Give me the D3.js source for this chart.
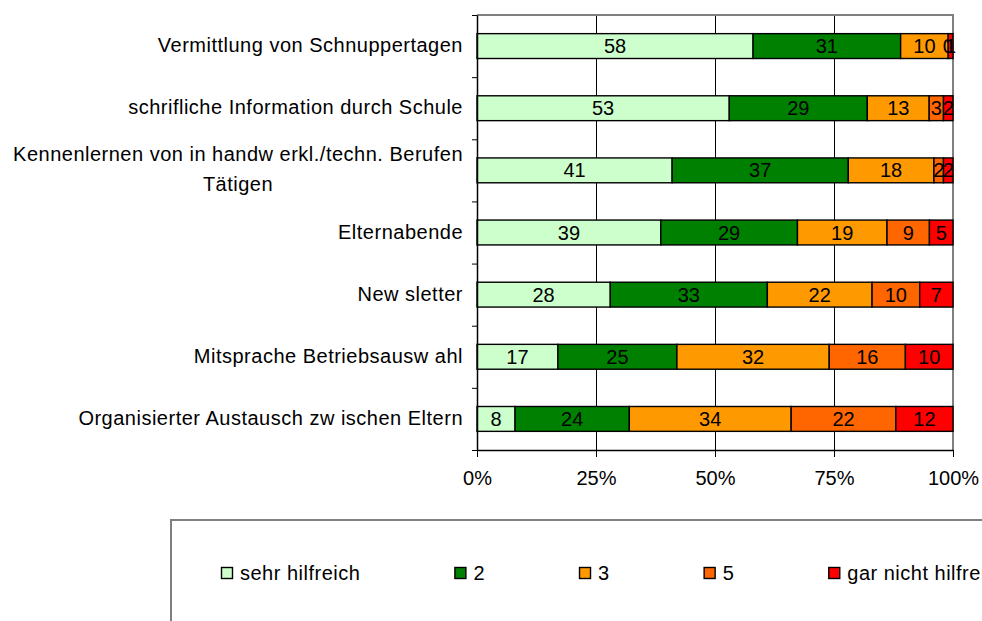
<!DOCTYPE html>
<html>
<head>
<meta charset="utf-8">
<script src="https://cdn.jsdelivr.net/npm/d3@7"></script>
<style>
body { margin: 0; background: #fff; }
svg { display: block; font-family: 'Liberation Sans', Arial, sans-serif; }
</style>
</head>
<body>
<svg width="982" height="621"></svg>
<script>
'use strict';

// categories, top to bottom
var categories = [
    'Vermittlung von Schnuppertagen',
    'schrifliche Information durch Schule',
    'Kennenlernen von in handw erkl./techn. Berufen\nTätigen',
    'Elternabende',
    'New sletter',
    'Mitsprache Betriebsausw ahl',
    'Organisierter Austausch zw ischen Eltern'
];

var seriesNames = ['sehr hilfreich', '2', '3', '5', 'gar nicht hilfreich'];
var seriesColors = ['#ccffcc', '#008000', '#ff9900', '#ff6600', '#ff0000'];

var sehrHilfreich = [58, 53, 41, 39, 28, 17, 8];
var wert2 = [31, 29, 37, 29, 33, 25, 24];
var wert3 = [10, 13, 18, 19, 22, 32, 34];
var wert5 = [0, 3, 2, 9, 10, 16, 22];
var garNicht = [1, 2, 2, 5, 7, 10, 12];

var xTicks = [0, 0.25, 0.5, 0.75, 1];

var series = [sehrHilfreich, wert2, wert3, wert5, garNicht];
var keys = ['s0', 's1', 's2', 's3', 's4'];

var rows = categories.map(function(c, i) {
    var row = {cat: c};
    keys.forEach(function(k, j) { row[k] = series[j][i]; });
    return row;
});

var stacked = d3.stack()
    .keys(keys)
    .offset(d3.stackOffsetExpand)(rows);

var svg = d3.select('svg'),
    plot = {left: 477, right: 953, top: 15, bottom: 450},
    fontSize = 20;

var x = d3.scaleLinear()
    .domain([0, 1])
    .range([plot.left, plot.right]);
var y = d3.scaleBand()
    .domain(categories)
    .range([plot.top, plot.bottom])
    .paddingInner(0.6)
    .paddingOuter(0.3);
var yEdge = d3.scaleLinear()
    .domain([0, categories.length])
    .range([plot.top, plot.bottom]);

// vertical gridlines
svg.append('g')
    .selectAll('line')
    .data(xTicks.slice(1, -1))
    .enter()
    .append('line')
    .attr('x1', function(d) { return Math.round(x(d)) + 0.5; })
    .attr('x2', function(d) { return Math.round(x(d)) + 0.5; })
    .attr('y1', plot.top)
    .attr('y2', plot.bottom)
    .attr('stroke', '#000')
    .attr('stroke-width', 1);

// plot area border (top and right)
svg.append('path')
    .attr('d', 'M' + plot.left + ',' + plot.top + 'H' + plot.right + 'V' + plot.bottom)
    .attr('fill', 'none')
    .attr('stroke', '#808080')
    .attr('stroke-width', 2);

// bars + value labels
var layers = svg.selectAll('.layer')
    .data(stacked)
    .enter()
    .append('g')
    .attr('class', 'layer');

layers.selectAll('rect')
    .data(function(d) { return d; })
    .enter()
    .append('rect')
    .attr('x', function(d) { return x(d[0]); })
    .attr('width', function(d) { return x(d[1]) - x(d[0]); })
    .attr('y', function(d) { return y(d.data.cat); })
    .attr('height', y.bandwidth())
    .attr('fill', function(d, i, nodes) {
        return seriesColors[keys.indexOf(d3.select(nodes[i].parentNode).datum().key)];
    })
    .attr('stroke', '#000')
    .attr('stroke-width', 1.4);

layers.each(function(layer) {
    var j = keys.indexOf(layer.key);
    d3.select(this).selectAll('text')
        .data(layer)
        .enter()
        .append('text')
        .attr('x', function(d) { return (x(d[0]) + x(d[1])) / 2; })
        .attr('y', function(d) { return y(d.data.cat) + y.bandwidth() / 2 + 7; })
        .attr('text-anchor', 'middle')
        .attr('font-size', fontSize)
        .attr('fill', '#000')
        .text(function(d, i) { return series[j][i]; });
});

// left axis: line + boundary ticks
var leftAxis = svg.append('g')
    .attr('transform', 'translate(' + plot.left + ',0)')
    .call(d3.axisLeft(yEdge).ticks(categories.length).tickSize(5).tickSizeOuter(0).tickFormat(''));
leftAxis.selectAll('line').attr('stroke', '#000');
leftAxis.select('.domain').attr('stroke', '#000').attr('stroke-width', 1.5);

// bottom axis
var bottomAxis = svg.append('g')
    .attr('transform', 'translate(0,' + plot.bottom + ')')
    .call(d3.axisBottom(x).tickValues(xTicks).tickFormat(d3.format('.0%'))
        .tickSize(7).tickSizeOuter(0).tickPadding(14));
bottomAxis.attr('font-family', null).attr('font-size', fontSize);
bottomAxis.selectAll('line').attr('stroke', '#000');
bottomAxis.select('.domain').attr('stroke', '#000').attr('stroke-width', 1.5);
bottomAxis.selectAll('text').attr('fill', '#000');

// category labels (multi-line labels are centred within a right-aligned block)
var labelRight = 463;
categories.forEach(function(cat) {
    var lines = cat.split('\n'),
        cy = y(cat) + y.bandwidth() / 2;
    var g = svg.append('g');
    var texts = g.selectAll('text')
        .data(lines)
        .enter()
        .append('text')
        .attr('font-size', fontSize)
        .attr('letter-spacing', 0.5)
        .attr('fill', '#000')
        .attr('text-anchor', 'middle')
        .attr('y', function(d, i) { return cy + 6 + (i - (lines.length - 1) / 2) * 30; })
        .text(function(d) { return d; });
    var maxW = d3.max(texts.nodes(), function(n) { return n.getComputedTextLength(); });
    texts.attr('x', labelRight - maxW / 2);
});

// legend
var legend = svg.append('g');
legend.append('rect')
    .attr('x', 171)
    .attr('y', 520)
    .attr('width', 900)
    .attr('height', 200)
    .attr('fill', '#fff')
    .attr('stroke', '#808080')
    .attr('stroke-width', 2);

var lx = 221;
seriesNames.forEach(function(name, i) {
    var item = legend.append('g').attr('transform', 'translate(' + lx + ',567)');
    item.append('rect')
        .attr('x', 0.5)
        .attr('y', 0.5)
        .attr('width', 11)
        .attr('height', 11)
        .attr('fill', seriesColors[i])
        .attr('stroke', '#000')
        .attr('stroke-width', 1.4);
    var t = item.append('text')
        .attr('x', 19)
        .attr('y', 13)
        .attr('font-size', fontSize)
        .attr('letter-spacing', 0.5)
        .attr('fill', '#000')
        .text(name);
    lx += 19 + t.node().getComputedTextLength() + 94;
});
</script>
</body>
</html>
